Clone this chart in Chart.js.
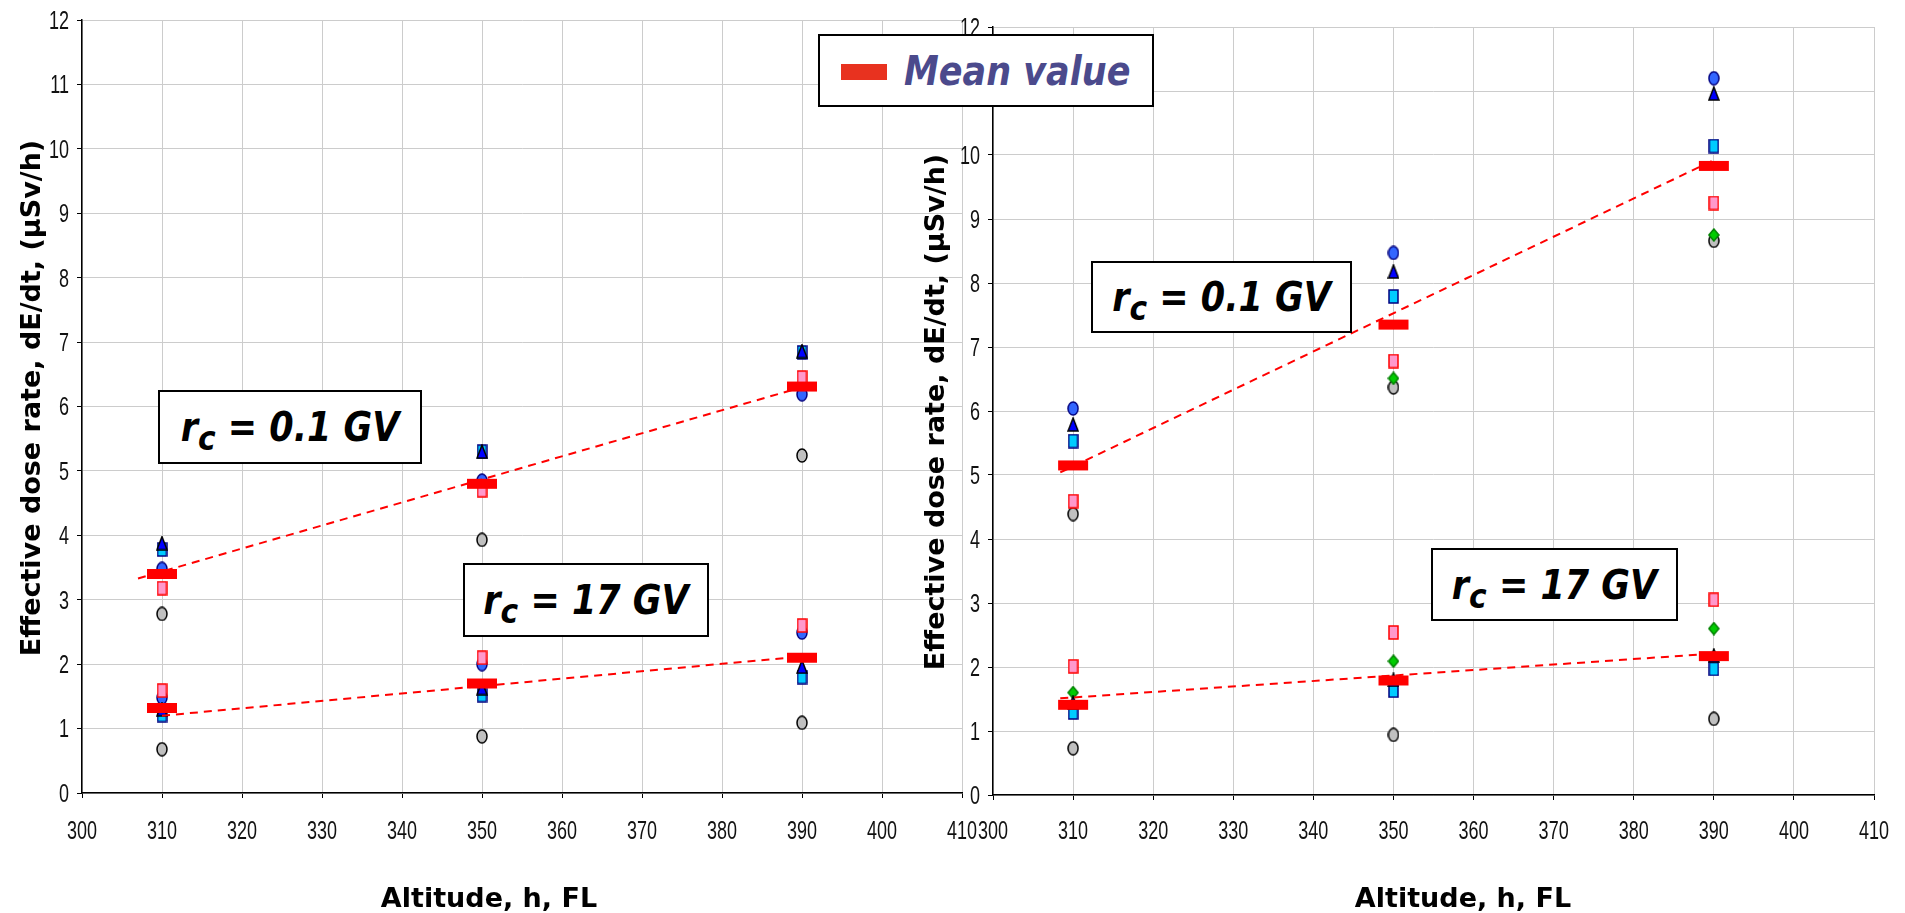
<!DOCTYPE html>
<html>
<head>
<meta charset="utf-8">
<title>Effective dose rate vs altitude</title>
<script src="https://cdn.jsdelivr.net/npm/chart.js@4.4.1/dist/chart.umd.min.js"></script>
<style>
  html, body { margin: 0; padding: 0; background: #fff; overflow: hidden; }
  #wrap { position: relative; width: 1905px; height: 913px; }
  #wrap canvas { position: absolute; left: 0; top: 0; }
  .box {
    position: absolute; box-sizing: border-box;
    border: 2px solid #000; background: #fff;
    display: flex; align-items: center; justify-content: center;
  }
  .box span {
    display: inline-block; white-space: nowrap; line-height: 1;
    font: italic bold 35px "DejaVu Sans", sans-serif; color: #000;
    transform: scaleY(1.15);
  }
  .box sub { font-size: 0.85em; line-height: 0; vertical-align: -8px; }
  #legend { justify-content: flex-start; }
  #legend i.swatch {
    position: absolute; left: 21px; top: 28px; width: 46px; height: 16px; background: #e8321f;
  }
  #legend span { position: absolute; left: 84px; color: #4b4a8c; }
</style>
</head>
<body>
<div id="wrap">
  <canvas id="leftChart" width="1905" height="913"></canvas>
  <canvas id="rightChart" width="1905" height="913"></canvas>

  <div class="box" id="legend" style="left:818px;top:34px;width:336px;height:73px;">
    <i class="swatch"></i><span>Mean value</span>
  </div>
  <div class="box" style="left:158px;top:390px;width:264px;height:74px;"><span>r<sub>c</sub> = 0.1 GV</span></div>
  <div class="box" style="left:463px;top:563px;width:246px;height:74px;"><span>r<sub>c</sub> = 17 GV</span></div>
  <div class="box" style="left:1091px;top:261px;width:261px;height:72px;"><span>r<sub>c</sub> = 0.1 GV</span></div>
  <div class="box" style="left:1431px;top:548px;width:247px;height:73px;"><span>r<sub>c</sub> = 17 GV</span></div>
</div>

<script>
// flight levels where the doses were computed
const altitudes = [310, 350, 390];

// left panel, rc = 0.1 GV (01) and rc = 17 GV (17)
const leftMean01 = [3.40, 4.80, 6.31];
const leftMean17 = [1.32, 1.70, 2.10];
const leftBlueCircle01 = [3.48, 4.85, 6.19];
const leftBlueCircle17 = [1.48, 2.00, 2.49];
const leftTriangle01 = [3.88, 5.30, 6.86];
const leftTriangle17 = [1.30, 1.63, 1.96];
const leftCyan01 = [3.78, 5.30, 6.84];
const leftCyan17 = [1.21, 1.52, 1.80];
const leftPink01 = [3.18, 4.70, 6.45];
const leftPink17 = [1.59, 2.10, 2.60];
const leftGrey01 = [2.78, 3.93, 5.24];
const leftGrey17 = [0.68, 0.88, 1.09];
const leftTrend01X = [307, 390];
const leftTrend01Y = [3.33, 6.30];
const leftTrend17X = [310, 390];
const leftTrend17Y = [1.20, 2.12];

// right panel
const rightMean01 = [5.15, 7.35, 9.83];
const rightMean17 = [1.41, 1.79, 2.17];
const rightBlueCircle01 = [6.04, 8.47, 11.20];
const rightTriangle01 = [5.79, 8.18, 10.96];
const rightTriangle17 = [1.44, 1.80, 2.18];
const rightCyan01 = [5.53, 7.79, 10.14];
const rightCyan17 = [1.29, 1.63, 1.97];
const rightPink01 = [4.59, 6.78, 9.25];
const rightPink17 = [2.01, 2.54, 3.05];
const rightGreen01 = [null, 6.51, 8.75];
const rightGreen17 = [1.60, 2.09, 2.60];
const rightGrey01 = [4.39, 6.37, 8.66];
const rightGrey17 = [0.73, 0.94, 1.19];
const rightTrend01X = [308.4, 390];
const rightTrend01Y = [5.04, 9.92];
const rightTrend17X = [308.4, 390];
const rightTrend17Y = [1.51, 2.21];

const xTitle = 'Altitude, h, FL';
const yTitle = 'Effective dose rate, dE/dt, (\u00b5Sv/h)';

// small canvases used as point styles (markers in the original are taller than wide)
function marker(shape, w, h, fill, stroke) {
    const c = document.createElement('canvas');
    c.width = w + 2;
    c.height = h + 2;
    const g = c.getContext('2d');
    g.fillStyle = fill;
    g.strokeStyle = stroke || fill;
    g.lineWidth = 1.5;
    const cx = c.width / 2, cy = c.height / 2;
    g.beginPath();
    if (shape === 'ellipse') {
        g.ellipse(cx, cy, w / 2, h / 2, 0, 0, Math.PI * 2);
    } else if (shape === 'triangle') {
        g.moveTo(cx, 1);
        g.lineTo(1 + w, 1 + h);
        g.lineTo(1, 1 + h);
        g.closePath();
    } else if (shape === 'diamond') {
        g.moveTo(cx, 1);
        g.lineTo(1 + w, cy);
        g.lineTo(cx, 1 + h);
        g.lineTo(1, cy);
        g.closePath();
    } else {
        g.rect(1, 1, w, h);
    }
    g.fill();
    if (stroke) g.stroke();
    return c;
}

const styles = {
    mean: marker('rect', 30, 10, '#ff0000'),
    blueCircle: marker('ellipse', 10, 13, '#3366ff', '#000080'),
    triangle: marker('triangle', 10, 13, '#0000ff', '#000000'),
    cyan: marker('rect', 9, 13, '#00ccff', '#000080'),
    pink: marker('rect', 9, 13, '#ff99cc', '#ff0000'),
    green: marker('diamond', 10, 12, '#00cc00', '#008000'),
    grey: marker('ellipse', 10, 13, '#c0c0c0', '#000000')
};

function points(xs, ...groups) {
    const out = [];
    groups.forEach(vals => vals.forEach((v, i) => {
        if (v !== null) out.push({ x: xs[i], y: v });
    }));
    return out;
}

function markerSet(label, style, data) {
    return { label: label, data: data, pointStyle: styles[style], pointRadius: 6, showLine: false };
}

function trendSet(label, xs, ys) {
    return {
        label: label,
        data: points(xs, ys),
        showLine: true,
        borderColor: '#ff0000',
        borderWidth: 2,
        borderDash: [8, 6],
        pointRadius: 0,
        fill: false
    };
}

// tick labels in the original are a narrow face; draw the scale's own ticks squeezed a little,
// then the two axis titles
const axisTextPlugin = {
    id: 'axisText',
    afterDraw(chart, args, opts) {
        const ctx = chart.ctx;
        const xs = chart.scales.x, ys = chart.scales.y;
        ctx.save();
        ctx.fillStyle = '#111';
        ctx.font = '25px "Liberation Sans", Arial, sans-serif';
        ctx.textBaseline = 'middle';

        ctx.textAlign = 'center';
        xs.ticks.forEach(t => {
            ctx.save();
            ctx.translate(xs.getPixelForValue(t.value), opts.xLabelY);
            ctx.scale(0.72, 1);
            ctx.fillText(t.label, 0, 0);
            ctx.restore();
        });

        ctx.textAlign = 'right';
        ys.ticks.forEach(t => {
            ctx.save();
            ctx.translate(ys.right - 13, ys.getPixelForValue(t.value) + 2);
            ctx.scale(0.72, 1);
            ctx.fillText(t.label, 0, 0);
            ctx.restore();
        });

        ctx.fillStyle = '#000';
        ctx.font = 'bold 27px "DejaVu Sans", sans-serif';
        ctx.textAlign = 'center';
        ctx.textBaseline = 'alphabetic';
        ctx.fillText(opts.xText, opts.xCenter, opts.xBaseline);
        ctx.translate(opts.yBaseline, opts.yCenter);
        ctx.rotate(-Math.PI / 2);
        ctx.fillText(opts.yText, 0, 0);
        ctx.restore();
    }
};

function makeChart(canvasId, area, datasets, text) {
    return new Chart(document.getElementById(canvasId), {
        type: 'scatter',
        data: { datasets: datasets },
        options: {
            responsive: false,
            animation: false,
            layout: { padding: { left: 0, top: area.top, right: 1905 - area.right, bottom: 0 } },
            scales: {
                x: {
                    type: 'linear',
                    min: 300,
                    max: 410,
                    afterFit: s => { s.height = 913 - area.bottom; },
                    ticks: { stepSize: 10, display: false },
                    grid: { color: '#cccccc', tickColor: '#000', tickLength: 5, lineWidth: 1 },
                    border: { color: '#000', width: 1.5 }
                },
                y: {
                    type: 'linear',
                    min: 0,
                    max: 12,
                    afterFit: s => { s.width = area.left; },
                    ticks: { stepSize: 1, display: false },
                    grid: { color: '#cccccc', tickColor: '#000', tickLength: 5, lineWidth: 1 },
                    border: { color: '#000', width: 1.5 }
                }
            },
            plugins: {
                legend: { display: false },
                tooltip: { enabled: false },
                axisText: text
            }
        },
        plugins: [axisTextPlugin]
    });
}

makeChart('leftChart', { left: 82, right: 962, top: 20, bottom: 793 }, [
    markerSet('Mean value', 'mean', points(altitudes, leftMean01, leftMean17)),
    trendSet('Trend 0.1 GV', leftTrend01X, leftTrend01Y),
    trendSet('Trend 17 GV', leftTrend17X, leftTrend17Y),
    markerSet('Pink', 'pink', points(altitudes, leftPink01, leftPink17)),
    markerSet('Triangle', 'triangle', points(altitudes, leftTriangle01, leftTriangle17)),
    markerSet('Cyan', 'cyan', points(altitudes, leftCyan01, leftCyan17)),
    markerSet('Blue circle', 'blueCircle', points(altitudes, leftBlueCircle01, leftBlueCircle17)),
    markerSet('Grey', 'grey', points(altitudes, leftGrey01, leftGrey17))
], { xLabelY: 832, xText: xTitle, xCenter: 489, xBaseline: 907, yText: yTitle, yCenter: 398, yBaseline: 40 });

makeChart('rightChart', { left: 993, right: 1874, top: 27, bottom: 795 }, [
    markerSet('Mean value', 'mean', points(altitudes, rightMean01, rightMean17)),
    trendSet('Trend 0.1 GV', rightTrend01X, rightTrend01Y),
    trendSet('Trend 17 GV', rightTrend17X, rightTrend17Y),
    markerSet('Pink', 'pink', points(altitudes, rightPink01, rightPink17)),
    markerSet('Triangle', 'triangle', points(altitudes, rightTriangle01, rightTriangle17)),
    markerSet('Cyan', 'cyan', points(altitudes, rightCyan01, rightCyan17)),
    markerSet('Blue circle', 'blueCircle', points(altitudes, rightBlueCircle01)),
    markerSet('Green', 'green', points(altitudes, rightGreen01, rightGreen17)),
    markerSet('Grey', 'grey', points(altitudes, rightGrey01, rightGrey17))
], { xLabelY: 832, xText: xTitle, xCenter: 1463, xBaseline: 907, yText: yTitle, yCenter: 412, yBaseline: 944 });
</script>
</body>
</html>
